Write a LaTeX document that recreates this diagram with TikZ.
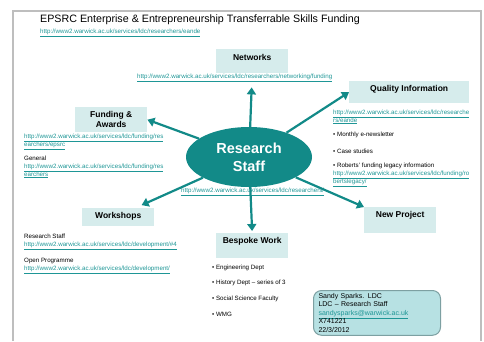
\documentclass[tikz,border=0pt]{standalone}
\usepackage{fontspec}
\setmainfont{Liberation Sans}
\usetikzlibrary{arrows.meta, shapes.geometric}

\definecolor{tealc}{RGB}{18,138,136}
\definecolor{boxc}{RGB}{214,236,236}
\definecolor{linkc}{RGB}{30,150,150}
\definecolor{contactc}{RGB}{183,225,227}
\definecolor{contactline}{RGB}{125,160,162}
\definecolor{framec}{RGB}{190,190,190}

\newcommand{\weblink}[1]{\textcolor{linkc}{\underline{#1}}}

\begin{document}
\begin{tikzpicture}[x=1pt, y=-1pt,
  box/.style={fill=boxc, minimum width=72pt, inner xsep=0pt, inner ysep=3pt,
    anchor=north west, font=\fontsize{8.5}{10}\selectfont\bfseries},
  txt/.style={anchor=west, inner sep=0pt, align=left, font=\fontsize{6.2}{8}\selectfont},
  arr/.style={draw=tealc, line width=2.2pt, -{Triangle[length=7pt, width=9pt]}},
  contact/.style={draw=contactline, fill=contactc, rounded corners=8pt, line width=1pt,
    inner xsep=5pt, inner ysep=3pt, align=left, font=\fontsize{7}{8.4}\selectfont}]
\useasboundingbox (0,0) rectangle (484,341);

% page frame
\draw[framec, line width=1.2pt] (13,341) -- (13,11) -- (481,11) -- (481,341);

% title
\node[anchor=west, inner sep=0pt, font=\fontsize{10.7}{12}\selectfont] (title) at (40,20)
  {EPSRC Enterprise \& Entrepreneurship Transferrable Skills Funding};
\node[txt] (titleurl) at (40,33) {\weblink{http://www2.warwick.ac.uk/services/ldc/researchers/eande}};

% centre
\node[ellipse, fill=tealc, minimum width=126pt, minimum height=60pt, inner sep=0pt,
  text=white, align=center, font=\fontsize{14.5}{18}\selectfont\bfseries] (staff) at (249,157)
  {Research\\Staff};
\node[txt] (staffurl) at (181,192) {\weblink{http://www2.warwick.ac.uk/services/ldc/researchers/}};

% boxes
\node[box, text height=8pt, text depth=10pt] (networks) at (216,49) {Networks};
\node[box, minimum width=120pt, text height=7pt, text depth=9pt] (quality) at (349,81) {Quality Information};
\node[box, align=center, minimum height=25pt] (funding) at (75,107) {Funding \&\\Awards};
\node[box, text height=7pt, text depth=5pt] (workshops) at (82,208) {Workshops};
\node[box, text height=7pt, text depth=12pt] (bespoke) at (216,233) {Bespoke Work};
\node[box, text height=7pt, text depth=13pt] (newproj) at (364,207) {New Project};

% networks
\node[txt] (neturl) at (137,78) {\weblink{http://www2.warwick.ac.uk/services/ldc/researchers/networking/funding}};

% quality information
\node[txt] (qualurl) at (333,117) {\weblink{http://www2.warwick.ac.uk/services/ldc/researche}\\\weblink{rs/eande}};
\node[txt] (qual1) at (333,135) {\textbullet\ Monthly e-newsletter};
\node[txt] (qual2) at (333,151) {\textbullet\ Case studies};
\node[txt] (qual3) at (333,175) {\textbullet\ Roberts' funding legacy information\\
  \weblink{http://www2.warwick.ac.uk/services/ldc/funding/ro}\\\weblink{bertslegacy/}};

% funding
\node[txt] (fundurl) at (24,142) {\weblink{http://www2.warwick.ac.uk/services/ldc/funding/res}\\\weblink{earchers/epsrc}};
\node[txt] (fundgen) at (24,167) {General\\\weblink{http://www2.warwick.ac.uk/services/ldc/funding/res}\\\weblink{earchers}};

% workshops
\node[txt] (workrs) at (24,242) {Research Staff\\\weblink{http://www2.warwick.ac.uk/services/ldc/development/\#4}};
\node[txt] (workop) at (24,266) {Open Programme\\\weblink{http://www2.warwick.ac.uk/services/ldc/development/}};

% bespoke work
\foreach \t/\y [count=\i] in {Engineering Dept/268, History Dept -- series of 3/283,
    Social Science Faculty/299, WMG/314}
  \node[txt] (bw\i) at (212,\y) {\textbullet\ \t};

% contact
\node[contact, anchor=north west, text width=117pt] (contact) at (313,290)
  {Sandy Sparks. LDC\\LDC -- Research Staff\\\weblink{sandysparks@warwick.ac.uk}\\X741221\\22/3/2012};

% arrows
\draw[arr, shorten >=14pt] (staff) -- (networks.south);
\draw[arr] (staff) -- (quality.west);
\draw[arr] (staff) -- (funding.east);
\draw[arr, shorten >=7pt] (staff) -- ([xshift=17pt]workshops.north);
\draw[arr, shorten >=2pt] (staff) -- (bespoke.north);
\draw[arr] (staff) -- (newproj.north west);
\end{tikzpicture}
\end{document}
